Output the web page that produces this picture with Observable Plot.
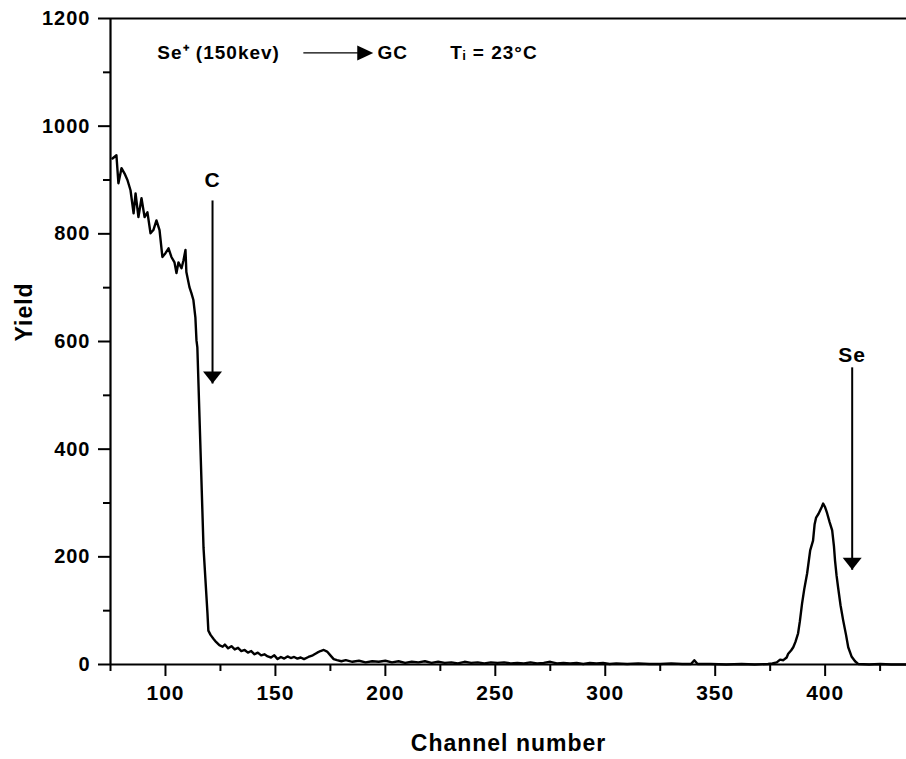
<!DOCTYPE html>
<html>
<head>
<meta charset="utf-8">
<script src="https://cdn.jsdelivr.net/npm/d3@7"></script>
<script src="https://cdn.jsdelivr.net/npm/@observablehq/plot@0.6"></script>
<style>
  html, body { margin: 0; padding: 0; background: #fff; }
  #chart svg text { letter-spacing: 1px; }
</style>
</head>
<body>
<div id="chart"></div>
<script>
// Spectrum: channel number vs yield
const channel = [
  75.9, 77.7, 78.6, 80, 81.4, 82.7, 84.1, 85.5, 86.4, 87.7, 89.1, 90.5, 91.8, 93.2, 94.5, 95.9,
  97.3, 98.6, 100, 101.4, 102.7, 104.1, 105, 105.9, 107.3, 108.2, 109.1, 109.5, 110.9, 111.8,
  112.7, 113.6, 114.1, 114.5, 115.9, 117.3, 119.1, 119.5, 120.5, 121.8, 123, 124.5, 126, 127,
  128.5, 130, 131.5, 133, 134.5, 136, 137.5, 139, 140.5, 142, 143.5, 145, 146.5, 148, 149.5,
  151, 152.5, 154, 155.5, 157, 158.5, 160, 161.5, 163, 165, 167, 169, 170.5, 172, 173.5, 175,
  176.5, 178, 180, 182, 185, 188, 191, 194, 197, 200, 203, 206, 209, 212, 215, 218, 221, 224,
  227, 230, 233, 236, 239, 242, 245, 248, 251, 254, 257, 260, 263, 266, 269, 272, 275, 278,
  281, 284, 287, 290, 293, 296, 299, 302, 305, 310, 315, 320, 325, 330, 335, 339, 340.5, 342,
  348, 355, 362, 368, 374, 376, 378, 379.5, 381, 382.5, 383.2, 384.5, 385.5, 386.5, 387.7,
  388.5, 389.5, 390.5, 391.8, 393.2, 394.5, 395.2, 395.9, 397, 397.7, 398.5, 399.1, 400, 400.9,
  402, 403.2, 404, 404.5, 405.2, 405.9, 407, 408.2, 409.5, 410.5, 412, 413.6, 415, 420, 425,
  430, 437
];
const yieldValues = [
  940, 946, 894, 922, 912, 900, 881, 838, 875, 831, 866, 831, 840, 801, 807, 825,
  807, 757, 764, 773, 757, 747, 727, 747, 736, 751, 770, 729, 701, 690,
  677, 645, 602, 589, 403, 217, 95, 63, 55, 48, 42, 36, 33, 37,
  30, 34, 28, 31, 25, 27, 22, 25, 19, 22, 17, 19, 15, 13, 17,
  10, 14, 11, 15, 12, 14, 11, 13, 10, 14, 17, 22, 25, 27, 24, 17,
  10, 8, 6, 8, 5, 7, 4, 6, 5, 7, 4, 6, 3, 5, 4, 6, 3, 5,
  3, 4, 2, 5, 3, 4, 2, 4, 3, 4, 2, 3, 2, 4, 2, 3, 5, 2,
  3, 2, 3, 1, 3, 2, 3, 1, 2, 1, 2, 1, 1, 2, 1, 1, 8, 1,
  1, 0, 1, 0, 1, 2, 4, 9, 8, 13, 20, 26, 32, 42, 58,
  80, 113, 140, 169, 212, 230, 260, 273, 280, 286, 293, 299, 292, 281,
  265, 249, 220, 193, 165, 143, 110, 82, 55, 32, 15, 6, 1, 0, 1,
  0, 0
];

// Axis ticks
const xMajorTicks = [100, 150, 200, 250, 300, 350, 400];
const xMinorTicks = [75, 125, 175, 225, 275, 325, 375, 425];
const yMajorTicks = [0, 200, 400, 600, 800, 1000, 1200];
const yMinorTicks = [100, 300, 500, 700, 900, 1100];

// Peak annotations (vertical arrows)
const peakLabels = ["C", "Se"];
const peakX = [121.4, 412.3];
const peakLabelY = [900, 574];
const peakArrowTop = [862, 552];
const peakArrowTip = [522, 176];

// Header annotation
const headerY = 1136;
const headerTexts = ["Se\u207A (150kev)", "GC", "T\u1D62 = 23\u00B0C"];
const headerTextX = [96.3, 196.4, 229.5];
const headerArrowX1 = 162.7;
const headerArrowX2 = 194.5;

const data = channel.map((c, i) => ({channel: c, yield: yieldValues[i]}));
const peaks = peakLabels.map((l, i) => ({label: l, x: peakX[i], ly: peakLabelY[i], top: peakArrowTop[i], tip: peakArrowTip[i]}));
const header = headerTexts.map((t, i) => ({text: t, x: headerTextX[i]}));

const headDown = {draw(ctx) { ctx.moveTo(0, 0); ctx.lineTo(-9.5, -12); ctx.lineTo(9.5, -12); ctx.closePath(); }};
const headRight = {draw(ctx) { ctx.moveTo(0, 0); ctx.lineTo(-16, -7.5); ctx.lineTo(-16, 7.5); ctx.closePath(); }};

const font = "Liberation Sans, Arial, Helvetica, sans-serif";
const fmt = d => String(d);

const chart = Plot.plot({
  width: 906,
  height: 759,
  marginLeft: 110,
  marginRight: 0,
  marginTop: 18,
  marginBottom: 95,
  style: {fontFamily: font, fontWeight: "bold", color: "#000", background: "#fff", overflow: "visible"},
  x: {domain: [75, 437]},
  y: {domain: [0, 1200]},
  marks: [
    // minor ticks
    Plot.axisX({ticks: xMinorTicks, tickSize: 7, text: null, strokeWidth: 2, label: null}),
    Plot.axisY({ticks: yMinorTicks, tickSize: 7, text: null, strokeWidth: 2, label: null}),
    // major ticks with labels
    Plot.axisX({ticks: xMajorTicks, tickSize: 12, tickPadding: 9, fontSize: 21, strokeWidth: 2, label: null, tickFormat: fmt}),
    Plot.axisY({ticks: yMajorTicks, tickSize: 12, tickPadding: 8, fontSize: 20, strokeWidth: 2, label: null, tickFormat: fmt}),
    // frame lines
    Plot.ruleY([0], {strokeWidth: 2.2}),
    Plot.ruleY([1200], {strokeWidth: 2.2}),
    Plot.ruleX([75], {strokeWidth: 2.2}),
    // spectrum
    Plot.line(data, {x: "channel", y: "yield", stroke: "#000", strokeWidth: 2.4, curve: "linear"}),
    // peak arrows
    Plot.link(peaks, {x1: "x", x2: "x", y1: "top", y2: "tip", stroke: "#000", strokeWidth: 2}),
    Plot.dot(peaks, {x: "x", y: "tip", symbol: headDown, fill: "#000", stroke: null}),
    Plot.text(peaks, {x: "x", y: "ly", text: "label", fontSize: 21, fill: "#000"}),
    // header
    Plot.link([headerY], {x1: headerArrowX1, x2: headerArrowX2 - 7, y1: d => d, y2: d => d, stroke: "#000", strokeWidth: 1.2}),
    Plot.dot([headerY], {x: headerArrowX2, y: d => d, symbol: headRight, fill: "#000", stroke: null}),
    Plot.text(header, {x: "x", y: headerY, text: "text", textAnchor: "start", fontSize: 19, fill: "#000"}),
    // axis titles
    Plot.text(["Channel number"], {frameAnchor: "bottom", dy: 86, fontSize: 23, fill: "#000"}),
    Plot.text(["Yield"], {frameAnchor: "left", dx: -86, rotate: -90, fontSize: 23, fill: "#000"})
  ]
});
document.getElementById("chart").appendChild(chart);
</script>
</body>
</html>
